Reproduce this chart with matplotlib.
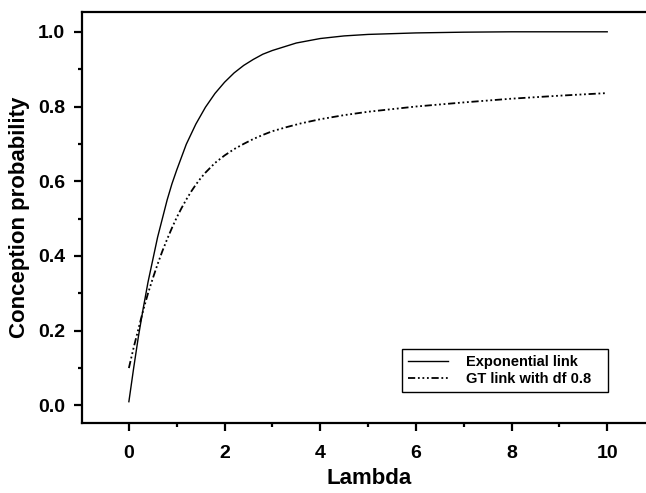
import matplotlib
matplotlib.use('Agg')
import matplotlib.pyplot as plt
from matplotlib.ticker import MultipleLocator

plt.rcParams['font.family'] = ['Liberation Sans', 'DejaVu Sans']
plt.rcParams['font.weight'] = 'bold'

# values
exp_lambda = [0, 0.1, 0.2, 0.3, 0.4, 0.5, 0.6, 0.7, 0.8, 0.9, 1.0, 1.2, 1.4, 1.6,
              1.8, 2.0, 2.2, 2.4, 2.6, 2.8, 3.0, 3.5, 4, 4.5, 5, 6, 7, 8, 9, 10]
exp_link = [0.01, 0.10, 0.185, 0.26, 0.33, 0.39, 0.45, 0.50, 0.55, 0.593, 0.63,
            0.699, 0.753, 0.798, 0.835, 0.865, 0.89, 0.91, 0.926, 0.94, 0.95, 0.97,
            0.982, 0.989, 0.993, 0.997, 0.999, 1.0, 1.0, 1.0]

gt_lambda = [0, 0.1, 0.2, 0.3, 0.4, 0.5, 0.6, 0.7, 0.8, 0.9, 1.0, 1.1, 1.2, 1.3,
             1.4, 1.5, 1.6, 1.8, 2.0, 2.2, 2.4, 2.6, 2.8, 3.0, 3.3, 3.6, 4.0, 4.5,
             5, 6, 7, 8, 9, 10]
gt_link = [0.10, 0.155, 0.205, 0.255, 0.30, 0.34, 0.378, 0.413, 0.445, 0.475,
           0.503, 0.528, 0.551, 0.572, 0.591, 0.608, 0.623, 0.649, 0.669, 0.686,
           0.70, 0.713, 0.724, 0.734, 0.745, 0.755, 0.766, 0.777, 0.786, 0.80,
           0.811, 0.821, 0.829, 0.836]

fig = plt.figure(figsize=(6.46, 4.93), dpi=100)
ax = fig.add_axes([82/646, 70/493, 574/646, 411/493])

ax.plot(exp_lambda, exp_link, color='black', lw=1.0, label='Exponential link')
ax.plot(gt_lambda, gt_link, color='black', lw=1.3,
        dashes=(4, 1.5, 1, 1.5, 1, 1.5, 1, 1.5), label='GT link with df 0.8')

ax.set_xlim(-0.98, 11.02)
ax.set_ylim(-0.047, 1.053)
ax.xaxis.set_minor_locator(MultipleLocator(1))
ax.yaxis.set_minor_locator(MultipleLocator(0.1))
ax.set_xticks([0, 2, 4, 6, 8, 10])
ax.set_yticks([0.0, 0.2, 0.4, 0.6, 0.8, 1.0])
ax.set_yticklabels(['0.0', '0.2', '0.4', '0.6', '0.8', '1.0'])

for s in ax.spines.values():
    s.set_linewidth(1.6)
ax.tick_params(which='major', direction='out', length=6, width=1.6, labelsize=14)
ax.tick_params(which='minor', direction='out', length=3, width=1.6)
ax.tick_params(axis='x', which='major', pad=10)
ax.tick_params(axis='y', which='major', pad=6)

ax.set_xlabel('Lambda', fontsize=16, fontweight='bold', labelpad=4)
ax.set_ylabel('Conception probability', fontsize=16, fontweight='bold', labelpad=6)

leg = ax.legend(loc='lower left', bbox_to_anchor=(0.557, 0.0754, 206/574, 44/411),
                mode='expand', borderaxespad=0,
                fancybox=False, edgecolor='black', fontsize=10.5,
                handlelength=2.8, handletextpad=1.2, labelspacing=0.2,
                borderpad=0.4, framealpha=1)
leg.get_frame().set_linewidth(1.0)

fig.savefig('out.png', dpi=100)
